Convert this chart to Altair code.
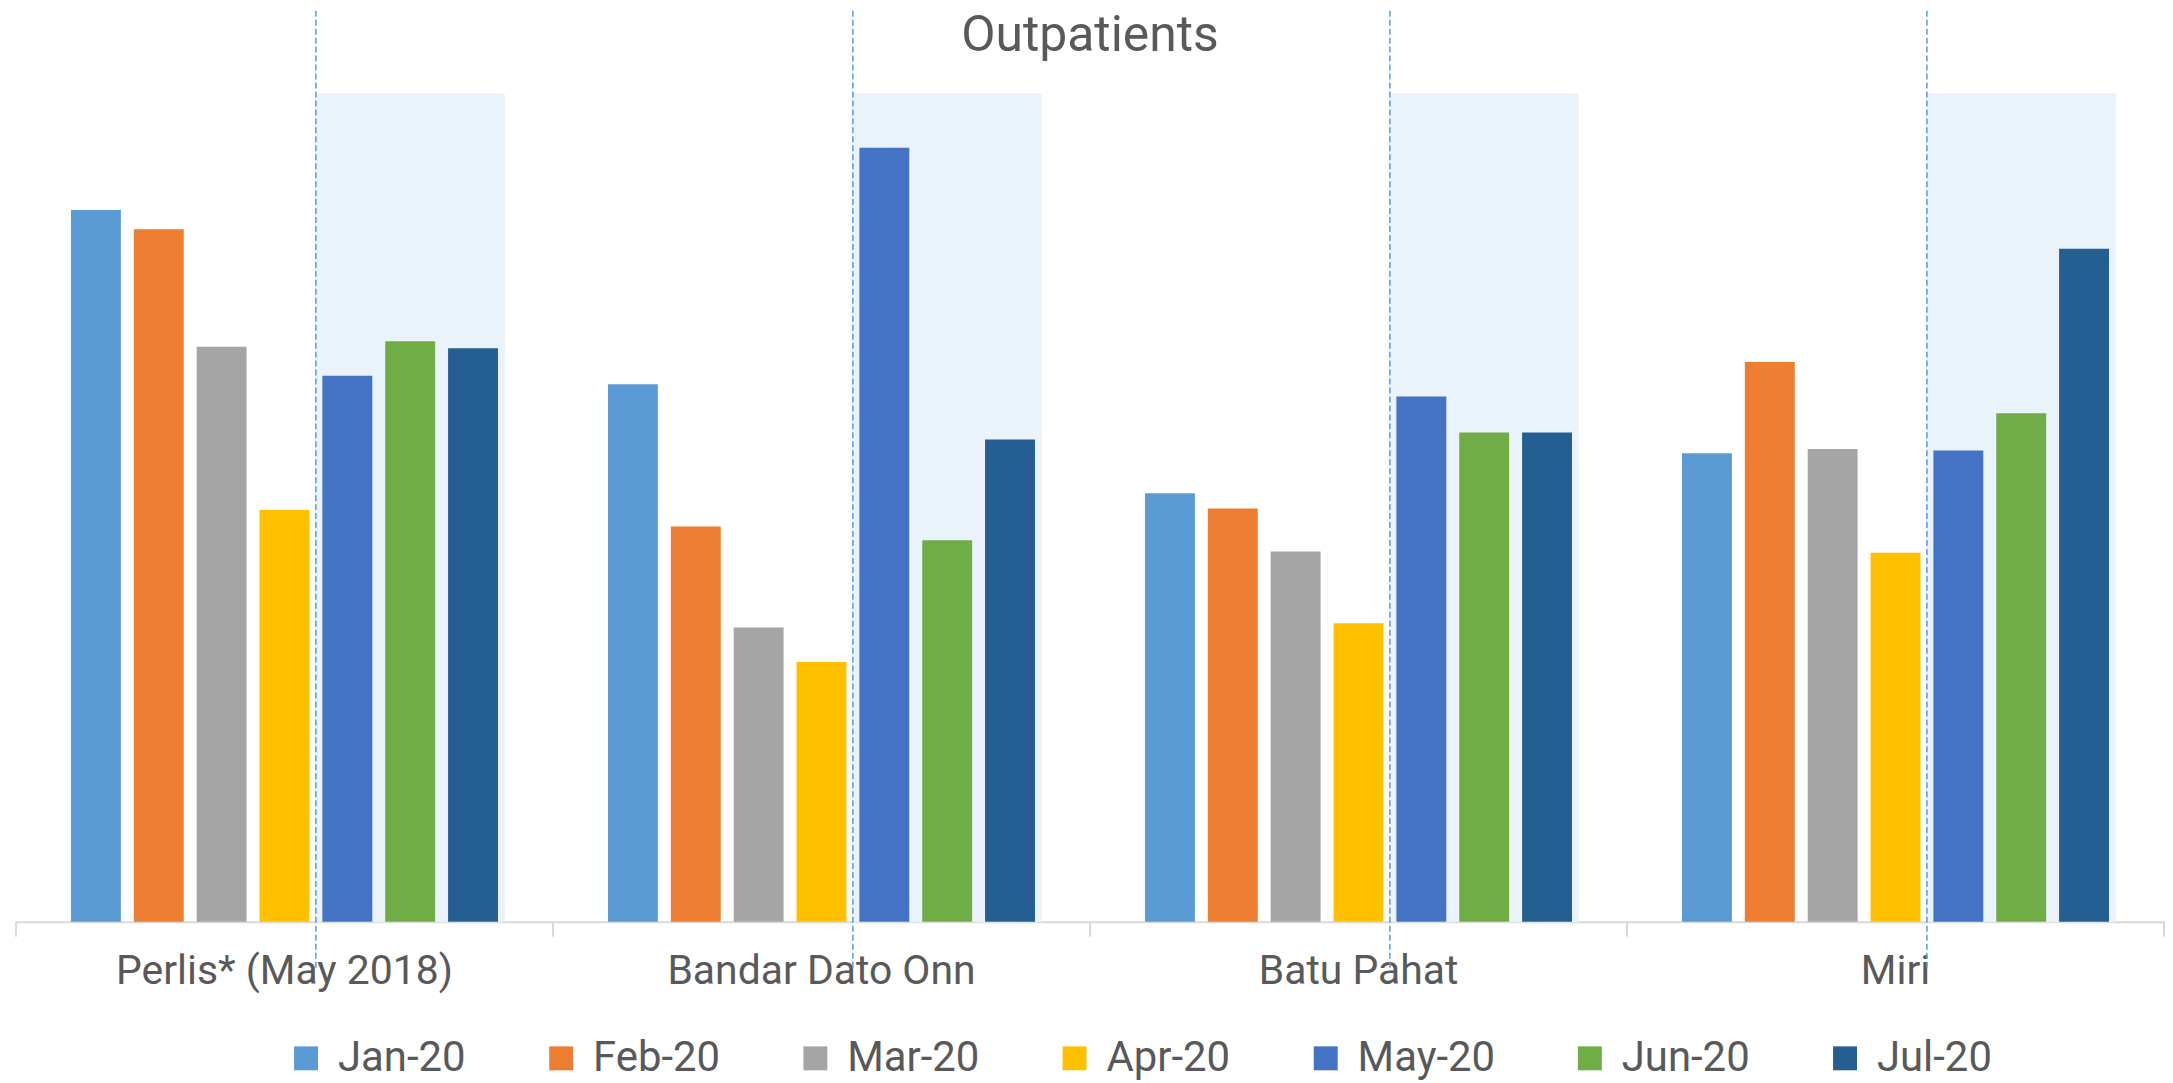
import altair as alt
import pandas as pd

# ---- data (relative heights; no value axis in the original) ----
categories = ["Perlis* (May 2018)", "Bandar Dato Onn", "Batu Pahat", "Miri"]
months = ["Jan-20", "Feb-20", "Mar-20", "Apr-20", "May-20", "Jun-20", "Jul-20"]
colors = ["#5B9BD5", "#ED7D31", "#A5A5A5", "#FFC000", "#4472C4", "#70AD47", "#255E91"]

perlis = [515, 501, 416, 298, 395, 420, 415]
bandar = [389, 286, 213, 188, 560, 276, 349]
batu = [310, 299, 268, 216, 380, 354, 354]
miri = [339, 405, 342, 267, 341, 368, 487]

shaded_months = ["May-20", "Jun-20", "Jul-20"]
shade_level = 599
title_text = ["Outpatients"]

# ---- style constants ----
W, H = 2155, 914
y_max = 659.2
tick_len = 10.8
dash_bottom = -34
FONT = "Roboto"
TXT = "#595959"
SHADE = "#EAF2FA"
slot_outer = 0.776
# dashed divider sits at the start of the first shaded slot within each band
dash_frac = (slot_outer + months.index(shaded_months[0])) / (len(months) + 2 * slot_outer)

rows = []
for site, vals in zip(categories, [perlis, bandar, batu, miri]):
    for m, v in zip(months, vals):
        rows.append({"site": site, "month": m, "value": v})
df = pd.DataFrame(rows)

shade_df = pd.DataFrame(
    [{"site": s, "month": m, "value": shade_level} for s in categories for m in shaded_months]
)
site_df = pd.DataFrame({"site": categories})

xscale = alt.Scale(domain=categories, paddingInner=0, paddingOuter=0)
yscale = alt.Scale(domain=[0, y_max], nice=False, zero=True)
bar_off = alt.Scale(domain=months, paddingInner=0.206, paddingOuter=0.875)
slot_off = alt.Scale(domain=months, paddingInner=0, paddingOuter=slot_outer)

X = lambda **kw: alt.X("site:N", scale=xscale, title=None, sort=categories, **kw)

shade = alt.Chart(shade_df).mark_bar(color=SHADE, stroke=SHADE, strokeWidth=1).encode(
    x=X(),
    xOffset=alt.XOffset("month:N", scale=slot_off, sort=months),
    y=alt.Y("value:Q", scale=yscale, axis=None),
)

bars = alt.Chart(df).mark_bar().encode(
    x=X(),
    xOffset=alt.XOffset("month:N", scale=bar_off, sort=months),
    y=alt.Y("value:Q", scale=yscale, axis=None),
    color=alt.Color(
        "month:N",
        scale=alt.Scale(domain=months, range=colors),
        sort=months,
        legend=alt.Legend(
            orient="none",
            legendX=270,
            legendY=1030,
            direction="horizontal",
            columns=7,
            title=None,
            symbolType="square",
            symbolSize=576,
            symbolStrokeWidth=0,
            symbolOpacity=1,
            labelFont=FONT,
            labelFontSize=42,
            labelColor=TXT,
            labelOffset=11,
            labelLimit=0,
            columnPadding=74,
            padding=0,
        ),
    ),
)

ticks = alt.Chart(site_df).mark_rule(color="#D9D9D9", strokeWidth=2).encode(
    x=X(bandPosition=0),
    y=alt.Y(datum=0, scale=yscale, axis=None),
    y2=alt.Y2(datum=-tick_len),
)
ticks_end = alt.Chart(site_df.tail(1)).mark_rule(color="#D9D9D9", strokeWidth=2).encode(
    x=X(bandPosition=1),
    y=alt.Y(datum=0, scale=yscale, axis=None),
    y2=alt.Y2(datum=-tick_len),
)

dash = alt.Chart(site_df).mark_rule(color="#5B9BD5", strokeDash=[6, 3], strokeWidth=1.5).encode(
    x=X(bandPosition=dash_frac),
    y=alt.Y(datum=y_max, scale=yscale, axis=None),
    y2=alt.Y2(datum=dash_bottom),
)

title = alt.Chart(pd.DataFrame({"t": title_text})).mark_text(
    font=FONT, fontSize=50, color=TXT, align="center", baseline="alphabetic"
).encode(text="t:N", x=alt.value(W / 2), y=alt.value(40))

chart = (
    alt.layer(shade, bars, ticks, ticks_end, dash, title)
    .resolve_scale(xOffset="independent")
    .properties(
        width=W,
        height=H,
        padding={"left": 7, "right": 0, "top": 0, "bottom": 0},
        background="white",
    )
    .configure_view(stroke=None)
    .configure_axisX(
        domainColor="#D9D9D9",
        domainWidth=2,
        ticks=False,
        tickSize=0,
        labelFont=FONT,
        labelFontSize=41,
        labelColor=TXT,
        labelAngle=0,
        labelBaseline="middle",
        labelPadding=50,
        labelLimit=0,
        grid=False,
    )
)

chart.save("out.html", embed_options={"renderer": "svg", "actions": False})
